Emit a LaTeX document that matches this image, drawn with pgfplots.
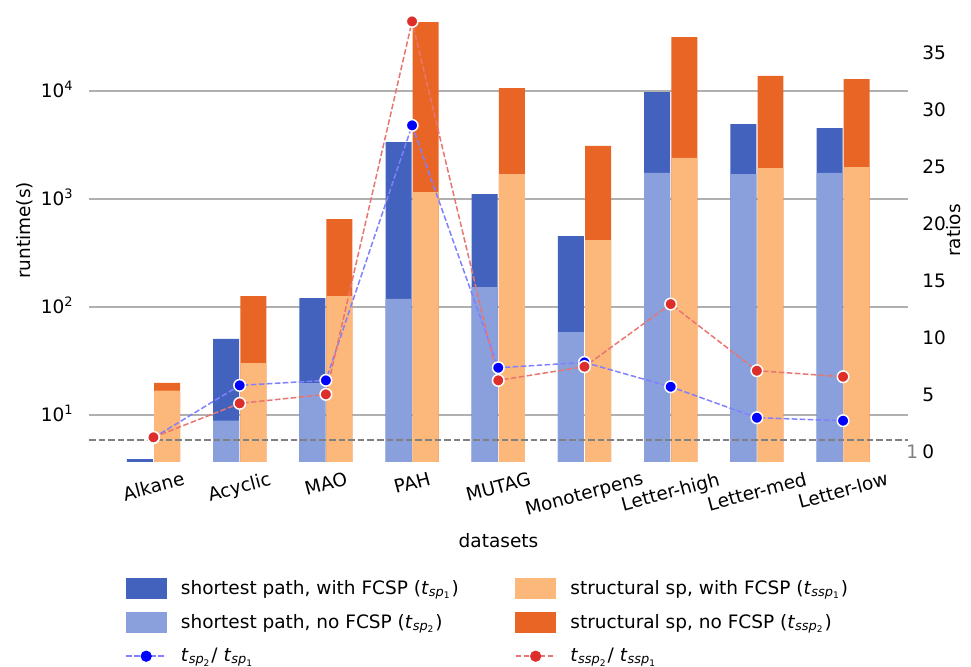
\documentclass[border=0pt]{standalone}
\usepackage{fontspec}
\setmainfont{DejaVu Sans}
\usepackage{graphicx}
\usepackage{pgfplots}
\pgfplotsset{compat=1.18}
\definecolor{dblue}{HTML}{4262BD}
\definecolor{lblue}{HTML}{8AA0DD}
\definecolor{lorange}{HTML}{FCB77A}
\definecolor{dorange}{HTML}{E86525}
\definecolor{mblue}{HTML}{0000FF}
\definecolor{mred}{HTML}{DD2E2B}
\definecolor{lnblue}{HTML}{8080FF}
\definecolor{lnred}{HTML}{E87572}
\definecolor{gridgray}{HTML}{B0B0B0}
\newcommand{\tsub}[1]{\textit{t}\textsubscript{#1}}
\begin{document}
\fontsize{9.25}{11}\selectfont
\begin{tikzpicture}
\useasboundingbox (0pt,0pt) rectangle (485.5pt,333pt);
\pgfplotsset{
  common/.style={
    at={(44.5pt,102.5pt)}, anchor=south west, scale only axis,
    width=409.5pt, height=230.5pt,
    xmin=-0.748, xmax=8.753,
    axis line style={draw=none}, major tick length=0pt, minor tick length=0pt,
  }
}
\begin{axis}[common,
  ymode=log, ymin=3.75, ymax=69700, yminorticks=false,
  xtick={0,1,2,3,4,5,6,7,8},
  xticklabels={\rotatebox{15}{Alkane},\rotatebox{15}{Acyclic},\rotatebox{15}{MAO},\rotatebox{15}{PAH},\rotatebox{15}{MUTAG},\rotatebox{15}{Monoterpens},\rotatebox{15}{Letter-high},\rotatebox{15}{Letter-med},\rotatebox{15}{Letter-low}},
  xticklabel style={anchor=north, inner sep=0pt, yshift=-5pt},
  ytick={10,100,1000,10000},
  yticklabels={10\textsuperscript{1},10\textsuperscript{2},10\textsuperscript{3},10\textsuperscript{4}},
  yticklabel style={anchor=base east, inner sep=0pt, xshift=-7.5pt, yshift=-3.4pt},
  ymajorgrids, grid style={gridgray, line width=0.75pt},
  ylabel={runtime(s)}, ylabel style={at={(axis description cs:-0.078,0.5)}, anchor=center},
  xlabel={datasets}, xlabel style={at={(axis description cs:0.5,-0.1735)}, anchor=center},
  ybar, bar width=0.3016,
]
\addplot[fill=dblue, draw=none, bar shift=-0.157, forget plot] coordinates {(0,3.9) (1,50.6) (2,121) (3,3370) (4,1112) (5,454) (6,9790) (7,4950) (8,4540)};
\addplot[fill=lblue, draw=none, bar shift=-0.157, forget plot] coordinates {(0,3.2) (1,8.85) (2,19.7) (3,119) (4,153) (5,58.6) (6,1743) (7,1700) (8,1743)};
\addplot[fill=dorange, draw=none, bar shift=0.158, forget plot] coordinates {(0,19.8) (1,126) (2,653) (3,43500) (4,10660) (5,3100) (6,31600) (7,13800) (8,12900)};
\addplot[fill=lorange, draw=none, bar shift=0.158, forget plot] coordinates {(0,16.8) (1,30.3) (2,126) (3,1161) (4,1702) (5,417) (6,2399) (7,1937) (8,1978)};
\end{axis}
\begin{axis}[common,
  clip=false,
  ymin=-0.84, ymax=39.64,
  xtick=\empty,
  ytick={0,5,10,15,20,25,30,35},
  yticklabel pos=right,
  /pgf/number format/assume math mode=true,
  yticklabel style={anchor=base west, inner sep=0pt, xshift=7pt, yshift=-3.4pt},
  ylabel={ratios}, ylabel style={at={(axis description cs:1.056,0.5)}, anchor=center},
  legend columns=2,
  legend cell align=left,
  legend style={draw=none, fill=none, inner sep=0pt, at={(axis description cs:0.044,-0.2495)}, anchor=north west,
    row sep=4.5pt,
    /tikz/every odd column/.append style={column sep=5pt},
    /tikz/every even column/.append style={column sep=26pt}},
]
\addplot[color=gray, line width=1pt, dash pattern=on 3.3pt off 1.5pt, forget plot] coordinates {(-0.748,1) (8.753,1)};
\addplot[color=lnblue, line width=0.75pt, dash pattern=on 2.8pt off 1.2pt, mark=*, mark size=2.9pt,
  mark options={solid, fill=mblue, draw=white, line width=0.75pt}, forget plot]
  coordinates {(0,1.2) (1,5.80) (2,6.24) (3,28.63) (4,7.35) (5,7.82) (6,5.68) (7,2.96) (8,2.70)};
\addplot[color=lnred, line width=0.75pt, dash pattern=on 2.8pt off 1.2pt, mark=*, mark size=2.9pt,
  mark options={solid, fill=mred, draw=white, line width=0.75pt}, forget plot]
  coordinates {(0,1.24) (1,4.22) (2,5.01) (3,37.76) (4,6.24) (5,7.44) (6,12.94) (7,7.09) (8,6.56)};
\node[text=gray, anchor=base west, inner sep=0pt, yshift=-3.4pt, xshift=-1pt] at (axis cs:8.753,0) {1};
\addlegendimage{legend image code/.code={\fill[dblue] (0pt,-5pt) rectangle (20pt,5pt);}}
\addlegendentry{shortest path, with FCSP (\tsub{\textit{sp}\textsubscript{1}})}
\addlegendimage{legend image code/.code={\fill[lorange] (0pt,-5pt) rectangle (20pt,5pt);}}
\addlegendentry{structural sp, with FCSP (\tsub{\textit{ssp}\textsubscript{1}})}
\addlegendimage{legend image code/.code={\fill[lblue] (0pt,-5pt) rectangle (20pt,5pt);}}
\addlegendentry{shortest path, no FCSP (\tsub{\textit{sp}\textsubscript{2}})}
\addlegendimage{legend image code/.code={\fill[dorange] (0pt,-5pt) rectangle (20pt,5pt);}}
\addlegendentry{structural sp, no FCSP (\tsub{\textit{ssp}\textsubscript{2}})}
\addlegendimage{legend image code/.code={\draw[lnblue, line width=0.75pt, dash pattern=on 2.8pt off 1.2pt] (0pt,0pt) -- (20pt,0pt); \fill[mblue] (10pt,0pt) circle (2.6pt);}}
\addlegendentry{\tsub{\textit{sp}\textsubscript{2}}/ \tsub{\textit{sp}\textsubscript{1}}}
\addlegendimage{legend image code/.code={\draw[lnred, line width=0.75pt, dash pattern=on 2.8pt off 1.2pt] (0pt,0pt) -- (20pt,0pt); \fill[mred] (10pt,0pt) circle (2.6pt);}}
\addlegendentry{\tsub{\textit{ssp}\textsubscript{2}}/ \tsub{\textit{ssp}\textsubscript{1}}}
\end{axis}
\end{tikzpicture}
\end{document}
